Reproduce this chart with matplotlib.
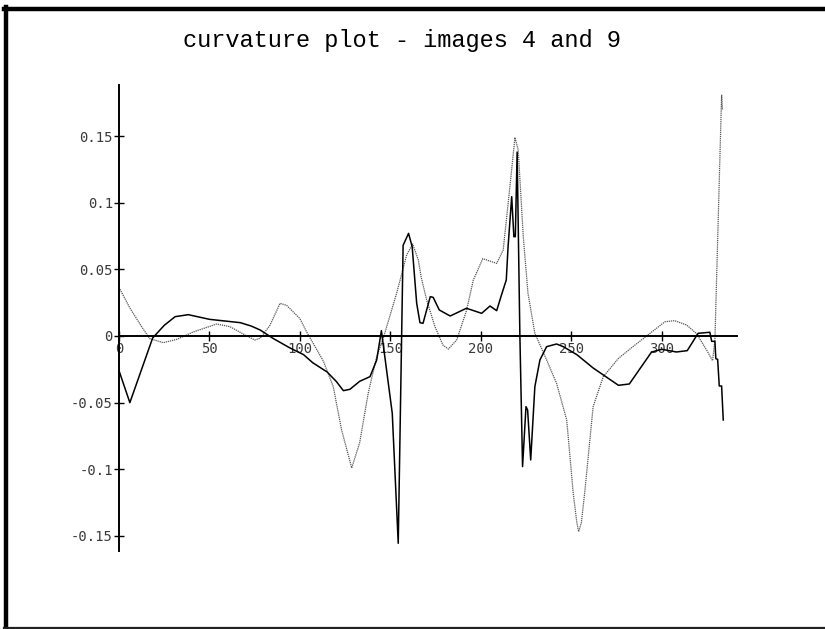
import numpy as np
import matplotlib
matplotlib.use('Agg')
import matplotlib.pyplot as plt
from matplotlib.lines import Line2D

# curvature of image 4 (solid)
img4_x = [0, 6, 18.6, 25, 31, 38.3, 50, 67, 73, 78, 85, 94.5, 102, 107, 115, 120, 124,
          127.6, 133, 138.7, 142.4, 145, 151, 154.3, 157, 160, 162, 164.5, 166.3, 168, 172,
          173.6, 177, 183, 192, 200.4, 205, 208.7, 211.4, 214, 215, 217, 218.2, 219, 220,
          221.5, 223, 224.9, 225.8, 227.5, 229.8, 232.6, 236.3, 241.8, 245.5, 253, 262, 276,
          282, 294.3, 300, 308, 314, 320, 326.5, 327.5, 329.3, 329.8, 330.8, 331.7, 333, 333.9]
img4_y = [-0.026, -0.050, -0.0015, 0.008, 0.0145, 0.016, 0.0125, 0.010, 0.0075, 0.0045,
          -0.0017, -0.009, -0.014, -0.020, -0.027, -0.034, -0.041, -0.040, -0.034, -0.0305,
          -0.018, 0.004, -0.058, -0.1555, 0.068, 0.077, 0.067, 0.0245, 0.010, 0.0095, 0.0295,
          0.029, 0.0195, 0.015, 0.0208, 0.017, 0.0225, 0.019, 0.031, 0.042, 0.067, 0.1045,
          0.0745, 0.0745, 0.138, 0.002, -0.098, -0.053, -0.0555, -0.093, -0.038, -0.018,
          -0.008, -0.006, -0.008, -0.014, -0.024, -0.037, -0.036, -0.012, -0.010, -0.012,
          -0.011, 0.002, 0.0028, -0.004, -0.004, -0.017, -0.0175, -0.0375, -0.0375, -0.063]

# curvature of image 9 (dotted)
img9_x = [0, 6, 12.5, 17, 24.5, 32, 41, 54, 61.3, 69.6, 75, 78, 83.4, 89, 92.6, 100, 103.7,
          113, 118.4, 123, 128.6, 133, 137.7, 142.4, 146, 153.4, 159, 162.3, 165.4, 167, 170,
          174.6, 179, 182, 186.6, 192, 195.8, 201, 208.7, 212.3, 216, 218.8, 220.6, 223.4,
          226, 229.8, 236.3, 241.8, 247.4, 251, 253, 254, 255.5, 257.5, 262, 267.6, 276, 284,
          293.4, 301.7, 307, 313.6, 319, 324.7, 328, 329.3, 333, 333.5]
img9_y = [0.0365, 0.021, 0.007, -0.002, -0.005, -0.0025, 0.003, 0.009, 0.007, 0.0008,
          -0.003, -0.0017, 0.008, 0.0245, 0.023, 0.013, 0.003, -0.019, -0.038, -0.0705,
          -0.099, -0.080, -0.043, -0.0155, -0.0018, 0.032, 0.061, 0.069, 0.057, 0.044, 0.027,
          0.007, -0.0068, -0.0098, -0.003, 0.019, 0.042, 0.058, 0.0545, 0.0645, 0.112, 0.149,
          0.1395, 0.0745, 0.032, 0.002, -0.018, -0.0355, -0.063, -0.118, -0.140, -0.1468,
          -0.140, -0.1155, -0.053, -0.0305, -0.0168, -0.008, 0.002, 0.0107, 0.0115, 0.0083,
          0.002, -0.0105, -0.0185, -0.003, 0.181, 0.1695]

xticks = [0, 50, 100, 150, 200, 250, 300]
yticks = [-0.15, -0.1, -0.05, 0, 0.05, 0.1, 0.15]
ylabels = ['-0.15', '-0.1', '-0.05', '0', '0.05', '0.1', '0.15']

fig = plt.figure(figsize=(8.25, 6.29), dpi=100)
ax = fig.add_axes([119/825, 1-551/629, (737-119)/825, (551-85)/629])

ax.plot(img9_x, img9_y, color='#555555', lw=0.9, ls=(0, (1, 0.7)))
ax.plot(img4_x, img4_y, color='black', lw=1.1)

ax.set_xlim(0, 341.5)
ax.set_ylim(-0.1613, 0.1883)
for s in ['top', 'right']:
    ax.spines[s].set_visible(False)
ax.spines['left'].set_position(('data', 0))
ax.spines['bottom'].set_position(('data', 0))
for s in ['left', 'bottom']:
    ax.spines[s].set_linewidth(1.4)
ax.set_xticks(xticks)
ax.set_xticklabels([str(t) for t in xticks])
ax.set_yticks(yticks)
ax.set_yticklabels(ylabels)
ax.tick_params(axis='both', direction='inout', length=7, width=1.0, pad=1,
               labelsize=10, labelcolor='#3a3a3a')
for lab in ax.get_xticklabels() + ax.get_yticklabels():
    lab.set_family('DejaVu Sans Mono')
ax.patch.set_alpha(0)

fig.text(402/825, 1-41/629, 'curvature plot - images 4 and 9', ha='center', va='center',
         family='Liberation Mono', fontsize=17)

# frame around the plot window
fig.add_artist(Line2D([6/825, 6/825], [0, 1-7/629], color='black', lw=3.2, transform=fig.transFigure))
fig.add_artist(Line2D([4/825, 1], [1-9/629, 1-9/629], color='black', lw=3.2, transform=fig.transFigure))
fig.add_artist(Line2D([4/825, 1], [1-627.5/629, 1-627.5/629], color='#222222', lw=1.6, transform=fig.transFigure))

fig.savefig('out.png', dpi=100)
